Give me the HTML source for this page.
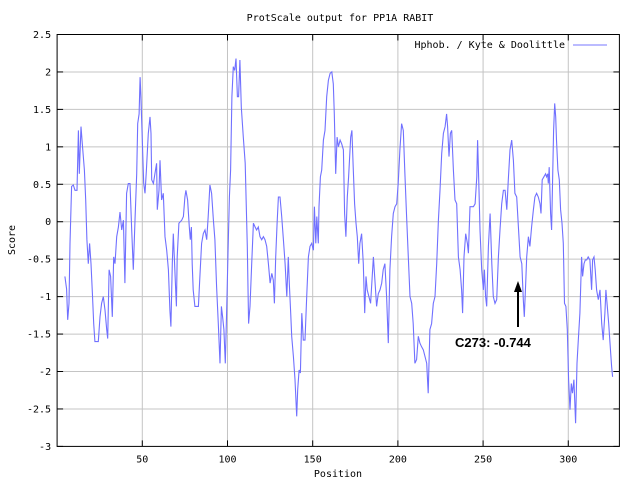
<!DOCTYPE html>
<html><head><meta charset="utf-8"><style>
html,body{margin:0;padding:0;background:#fff;}
svg{display:block;font-family:"DejaVu Sans Mono","Liberation Mono",monospace;}
</style></head><body>
<svg id="chart" width="639" height="483" viewBox="0 0 639 483" xmlns="http://www.w3.org/2000/svg">
<rect x="0" y="0" width="639" height="483" fill="#fff"/>
<g id="grid"></g>
<g id="ticks"></g>
<g id="series"></g>
<rect x="57.1" y="34.5" width="562.3" height="411.9" fill="none" stroke="#000" stroke-width="1"/>
<text x="340" y="21" font-size="10" text-anchor="middle">ProtScale output for PP1A RABIT</text>
<text x="338" y="477" font-size="10" text-anchor="middle">Position</text>
<text x="15" y="240" font-size="10" text-anchor="middle" transform="rotate(-90 15 240)">Score</text>
<g>
<text x="565" y="48" font-size="10" text-anchor="end">Hphob. / Kyte &amp; Doolittle</text>
<line x1="573" y1="45" x2="607" y2="45" stroke="#7777ff" stroke-width="1"/>
</g>
<g>
<line x1="518" y1="327" x2="518" y2="290" stroke="#000" stroke-width="2"/>
<polygon points="518,281 514,292 522,292" fill="#000"/>
<text x="455" y="347" font-size="13" font-weight="bold" font-family="'Liberation Sans',sans-serif">C273: -0.744</text>
</g>
</svg>
<script>
const positions = [4.6,5.6,6.2,7.0,7.6,8.5,9.5,10.5,11.7,12.5,13.0,14.0,14.8,16.0,16.8,17.5,18.3,19.1,19.9,20.7,21.5,22.2,24.2,25.2,26.1,27.1,28.1,29.1,29.7,30.5,31.4,32.4,33.2,34.0,35.0,36.0,36.9,37.9,38.9,39.8,40.8,41.8,42.8,43.8,44.7,45.7,46.7,47.3,48.1,48.7,49.2,50.0,50.8,51.6,52.4,53.5,
54.5,55.1,55.5,56.5,57.4,58.4,58.8,59.8,60.4,61.3,62.3,63.3,64.3,65.3,66.2,66.8,67.6,68.2,68.8,69.4,70.0,70.5,71.5,73.1,74.1,75.0,75.6,76.6,77.6,78.2,78.8,79.3,79.9,80.9,82.9,83.8,84.8,85.8,86.8,87.8,88.7,89.7,90.7,91.7,92.6,93.6,94.6,95.6,96.4,97.1,97.9,98.7,99.5,100.3,101.1,101.8,102.6,103.4,104.2,105.0,105.8,106.5,107.3,108.1,109.3,110.4,111.6,112.4,
113.2,114.2,115.2,116.2,117.1,118.1,119.1,120.1,121.1,122.0,123.0,124.0,125.0,126.0,126.9,127.5,128.3,129.1,129.9,130.8,131.8,132.8,133.8,134.8,135.7,136.3,137.1,137.7,138.7,139.6,140.6,141.2,142.0,142.8,143.6,144.5,145.5,146.5,147.5,148.4,149.4,150.4,151.0,151.8,152.4,153.3,153.7,154.5,155.3,156.3,157.2,158.2,159.2,160.2,161.2,162.1,162.7,163.5,164.3,165.1,166.1,167.0,
168.0,168.7,169.5,170.3,171.1,172.3,173.0,173.8,174.6,175.4,176.2,177.0,177.7,178.7,179.7,180.5,181.3,182.0,183.0,184.0,184.8,185.6,186.5,187.5,188.5,189.5,190.5,191.4,192.4,193.4,194.4,195.3,196.3,197.3,198.3,199.3,200.2,201.2,202.2,203.2,204.1,205.1,206.1,207.1,208.1,209.0,210.0,211.0,212.0,212.9,213.9,214.9,215.9,216.9,217.8,218.8,219.8,220.8,
221.8,222.8,223.8,224.7,225.7,226.7,227.7,228.6,229.2,230.0,230.8,231.6,232.6,233.5,234.5,235.5,236.5,237.4,238.0,238.8,239.8,240.8,241.4,242.3,244.3,245.3,246.3,246.8,247.6,248.2,249.2,250.2,250.8,251.5,252.1,253.1,254.1,255.1,256.0,257.0,258.0,259.0,259.9,260.9,261.9,262.9,263.9,264.8,265.8,266.8,267.8,268.7,269.7,270.7,271.7,272.7,273.6,274.2,275.0,275.6,276.6,
277.5,278.5,279.5,280.4,281.4,282.4,283.4,284.0,284.7,285.7,286.7,287.3,287.9,288.3,288.8,289.6,290.2,290.8,291.4,292.0,292.6,293.1,293.9,294.7,295.5,296.3,297.1,297.8,298.6,299.4,300.2,301.0,301.8,302.5,303.3,304.3,305.1,305.9,306.8,307.8,308.4,309.2,310.0,310.8,311.7,312.7,313.7,314.3,315.1,315.8,316.6,317.6,318.6,319.6,320.5,321.5,322.1,322.9,323.7,324.5,325.4,326.0];
const scores = [-0.73,-0.9,-1.31,-1.09,-0.29,0.47,0.49,0.42,0.42,1.22,0.64,1.27,1.04,0.69,0.29,-0.24,-0.56,-0.29,-0.56,-0.96,-1.36,-1.6,-1.6,-1.27,-1.09,-1.0,-1.18,-1.44,-1.56,-0.64,-0.73,-1.27,-0.47,-0.56,-0.2,-0.07,0.13,-0.11,0.02,-0.82,0.38,0.51,0.51,-0.11,-0.64,0.02,0.64,1.31,1.44,1.93,1.67,1.09,0.51,0.38,0.69,1.18,
1.4,1.18,0.56,0.51,0.64,0.78,0.16,0.42,0.82,0.29,0.38,-0.2,-0.38,-0.64,-1.18,-1.4,-0.56,-0.16,-0.47,-0.82,-1.13,-0.47,-0.02,0.02,0.07,0.33,0.42,0.29,-0.07,-0.24,-0.07,-0.56,-0.91,-1.13,-1.13,-0.73,-0.29,-0.16,-0.11,-0.24,0.07,0.49,0.38,0.02,-0.24,-0.87,-1.36,-1.89,-1.13,-1.27,-1.44,-1.89,-1.22,-0.42,0.33,0.69,1.67,2.07,2.02,2.18,1.67,1.67,2.16,1.53,1.13,0.78,-0.33,-1.36,
-1.13,-0.56,-0.02,-0.07,-0.11,-0.07,-0.2,-0.24,-0.2,-0.24,-0.33,-0.56,-0.82,-0.69,-0.78,-1.09,-0.47,-0.02,0.33,0.33,0.07,-0.24,-0.56,-1.0,-0.47,-0.82,-1.22,-1.53,-1.8,-2.11,-2.6,-2.24,-1.98,-2.02,-1.22,-1.58,-1.58,-1.0,-0.47,-0.33,-0.29,-0.38,0.2,-0.29,0.07,-0.29,0.2,0.6,0.69,1.09,1.22,1.67,1.89,1.98,2.0,1.84,1.44,0.64,1.13,1.0,1.09,1.04,
0.96,0.11,-0.2,0.33,0.6,1.13,1.22,0.73,0.24,-0.02,-0.2,-0.56,-0.29,-0.16,-0.56,-1.22,-0.73,-0.91,-1.0,-1.09,-0.78,-0.47,-0.78,-1.13,-0.96,-0.91,-0.82,-0.64,-0.56,-1.0,-1.62,-0.64,-0.2,0.11,0.2,0.24,0.51,0.96,1.31,1.22,0.64,0.07,-0.47,-1.0,-1.09,-1.36,-1.89,-1.84,-1.53,-1.62,-1.67,-1.71,-1.8,-1.89,-2.29,-1.44,-1.36,-1.09,
-1.0,-0.56,0.02,0.42,0.91,1.18,1.27,1.44,1.27,0.87,1.18,1.22,0.69,0.29,0.24,-0.47,-0.64,-0.91,-1.22,-0.47,-0.16,-0.29,-0.42,0.2,0.2,0.24,0.6,1.09,0.42,-0.11,-0.64,-0.91,-0.64,-1.0,-1.13,-0.33,0.11,-0.56,-1.0,-1.09,-1.04,-0.47,-0.11,0.24,0.42,0.42,0.16,0.56,0.96,1.09,0.82,0.38,0.33,-0.07,-0.47,-0.56,-1.04,-1.27,-0.82,-0.47,-0.2,
-0.33,-0.07,0.16,0.33,0.38,0.33,0.24,0.11,0.56,0.6,0.64,0.6,0.64,0.51,0.73,0.11,-0.11,0.56,1.22,1.58,1.4,1.09,0.69,0.56,0.16,-0.02,-0.29,-1.09,-1.13,-1.44,-2.11,-2.51,-2.16,-2.29,-2.11,-2.69,-1.89,-1.58,-1.22,-0.47,-0.73,-0.56,-0.51,-0.51,-0.47,-0.51,-0.91,-0.51,-0.47,-0.64,-0.91,-1.04,-0.91,-1.36,-1.58,-1.22,-0.91,-1.13,-1.36,-1.62,-1.93,-2.07];
const xTickValues = [50,100,150,200,250,300];
const yTickValues = [2.5,2,1.5,1,0.5,0,-0.5,-1,-1.5,-2,-2.5,-3];
const yTickLabels = ["2.5","2","1.5","1","0.5","0","-0.5","-1","-1.5","-2","-2.5","-3"];

const L=57.1,R=619.4,T=34.5,B=446.4;
const XMIN=0,XMAX=330,YMIN=-3,YMAX=2.5;
function xs(v){return L+(v-XMIN)/(XMAX-XMIN)*(R-L);}
function ys(v){return B-(v-YMIN)/(YMAX-YMIN)*(B-T);}
const NS="http://www.w3.org/2000/svg";
const grid=document.getElementById('grid'),ticks=document.getElementById('ticks'),series=document.getElementById('series');
function mk(tag,attrs,parent){const e=document.createElementNS(NS,tag);for(const k in attrs)e.setAttribute(k,attrs[k]);parent.appendChild(e);return e;}
yTickValues.forEach((v,i)=>{
  const y=ys(v);
  if(v<YMAX&&v>YMIN){
    const g=mk('line',{x1:L,x2:R,y1:y,y2:y,stroke:'#c4c4c4','stroke-width':1},grid);
    
    
  }
  const t1=mk('line',{x1:L,x2:L+6,y1:y,y2:y,stroke:'#000'},ticks);
  
  
  const t2=mk('line',{x1:R-6,x2:R,y1:y,y2:y,stroke:'#000'},ticks);
  
  
  const lb=mk('text',{x:L-6,y:y+3.5,'font-size':10,'text-anchor':'end'},ticks);
  lb.textContent=yTickLabels[i];
  
  
});
xTickValues.forEach(v=>{
  const x=xs(v);
  const g=mk('line',{x1:x,x2:x,y1:T,y2:B,stroke:'#c4c4c4','stroke-width':1},grid);
  
  
  const t1=mk('line',{x1:x,x2:x,y1:B-6,y2:B,stroke:'#000'},ticks);
  
  
  const t2=mk('line',{x1:x,x2:x,y1:T,y2:T+6,stroke:'#000'},ticks);
  
  
  const lb=mk('text',{x:x,y:B+16,'font-size':10,'text-anchor':'middle'},ticks);
  lb.textContent=String(v);
  
  
});
const pts=positions.map((p,i)=>xs(p).toFixed(1)+','+ys(scores[i]).toFixed(1)).join(' ');
const line=mk('polyline',{points:pts,fill:'none',stroke:'#7070ff','stroke-width':1.1},series);


</script>
</body></html>
